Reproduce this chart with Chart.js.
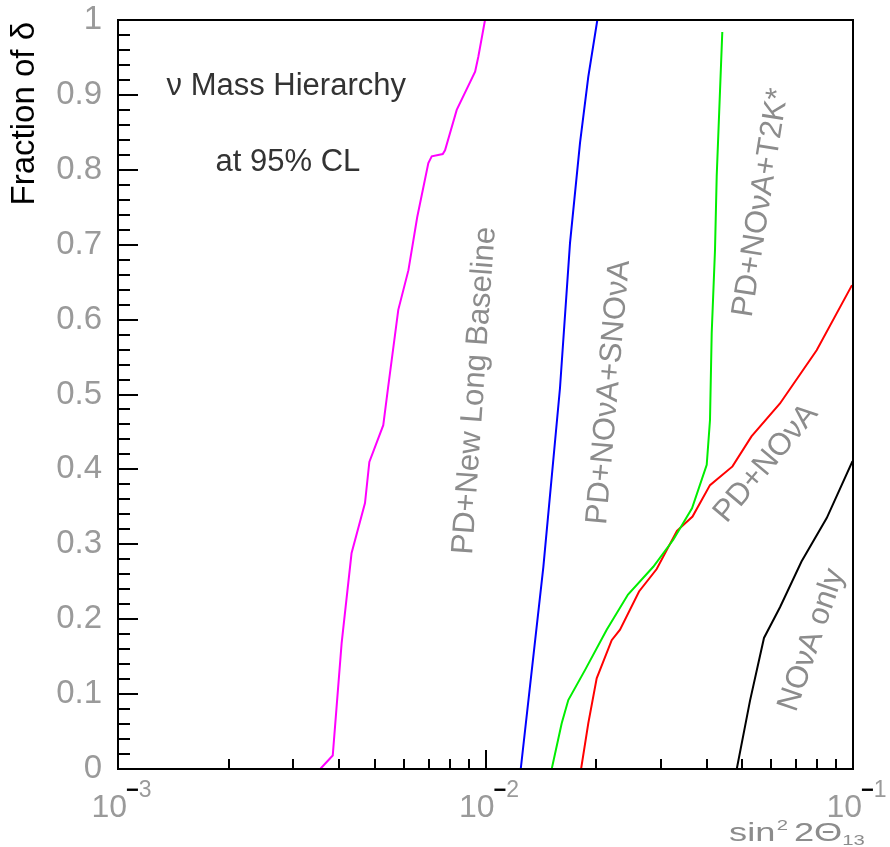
<!DOCTYPE html>
<html>
<head>
<meta charset="utf-8">
<script src="https://cdn.jsdelivr.net/npm/chart.js@4.4.0/dist/chart.umd.min.js"></script>
<style>
  html, body { margin: 0; padding: 0; background: #fff; }
  canvas { display: block; }
</style>
</head>
<body>
<canvas id="chart" width="890" height="847"></canvas>
<script>
// sin^2 2theta13 (x) against fraction of delta (y), one pair of arrays per curve
const longBaselineX = [0.00355, 0.00384, 0.00406, 0.00432, 0.00470, 0.00483, 0.00527, 0.00543, 0.00579, 0.00617, 0.00652, 0.00699, 0.00714, 0.00765, 0.00776, 0.00835, 0.00937, 0.00956, 0.00997];
const longBaselineY = [0, 0.018, 0.168, 0.288, 0.355, 0.410, 0.459, 0.509, 0.613, 0.666, 0.737, 0.809, 0.818, 0.821, 0.826, 0.880, 0.931, 0.951, 1.0];

const snovaX = [0.01247, 0.01437, 0.01595, 0.01698, 0.01808, 0.01904, 0.02015];
const snovaY = [0, 0.270, 0.509, 0.702, 0.836, 0.924, 1.0];

const t2kX = [0.01514, 0.01612, 0.01680, 0.01865, 0.02137, 0.02442, 0.02861, 0.03243, 0.03647, 0.03999, 0.04082, 0.04126, 0.04212, 0.04257, 0.04409];
const t2kY = [0, 0.061, 0.092, 0.132, 0.186, 0.233, 0.270, 0.306, 0.348, 0.406, 0.466, 0.582, 0.693, 0.791, 0.984];

const pdNovaX = [0.01820, 0.01904, 0.02007, 0.02205, 0.02323, 0.02617, 0.02923, 0.03319, 0.03659, 0.04082, 0.04700, 0.05294, 0.06329, 0.07964, 0.09938];
const pdNovaY = [0, 0.061, 0.121, 0.172, 0.186, 0.237, 0.267, 0.318, 0.337, 0.379, 0.404, 0.444, 0.488, 0.559, 0.646];

const novaOnlyX = [0.04827, 0.05244, 0.05725, 0.06329, 0.07242, 0.08481, 0.09968];
const novaOnlyY = [0, 0.091, 0.175, 0.216, 0.277, 0.335, 0.411];

const xDecades = [-3, -2, -1];
const yTickStep = 0.1;

const FONT = "'Liberation Sans', Arial, Helvetica, sans-serif";

// text placed in data coordinates
const notes = [
  { text: 'ν Mass Hierarchy', x: 0.00287, y: 0.911, rot: 0, size: 31, color: '#333' },
  { text: 'at 95% CL', x: 0.00290, y: 0.810, rot: 0, size: 31, color: '#333' },
  { text: 'PD+New Long Baseline', x: 0.00936, y: 0.505, rot: -86, size: 31, color: '#8c8c8c' },
  { text: 'PD+NOνA+SNOνA', x: 0.02168, y: 0.503, rot: -85, size: 31, color: '#8c8c8c' },
  { text: 'PD+NOνA+T2K*', x: 0.0562, y: 0.756, rot: -81, size: 31, color: '#8c8c8c' },
  { text: 'PD+NOνA', x: 0.0580, y: 0.408, rot: -50, size: 31, color: '#8c8c8c' },
  { text: 'NOνA only', x: 0.0773, y: 0.172, rot: -71, size: 31, color: '#8c8c8c' }
];

function pts(xs, ys) {
  return xs.map((v, i) => ({ x: v, y: ys[i] }));
}

function curve(label, xs, ys, color) {
  return {
    label: label,
    data: pts(xs, ys),
    borderColor: color,
    backgroundColor: color,
    borderWidth: 2,
    pointRadius: 0,
    showLine: true,
    tension: 0
  };
}

const rootFrame = {
  id: 'rootFrame',
  afterDatasetsDraw(chart) {
    const { ctx, chartArea: a } = chart;
    const x = chart.scales.x, y = chart.scales.y;
    ctx.save();

    ctx.strokeStyle = '#000';
    ctx.lineWidth = 2;
    ctx.strokeRect(a.left, a.top, a.right - a.left, a.bottom - a.top);

    // ticks drawn inside the frame
    ctx.beginPath();
    for (let v = 0; v <= 50; v++) {
      const py = Math.round(y.getPixelForValue(v / 50));
      const len = v % 5 === 0 ? 20 : 12;
      ctx.moveTo(a.left, py);
      ctx.lineTo(a.left + len, py);
    }
    for (let e = xDecades[0]; e < xDecades[xDecades.length - 1]; e++) {
      for (let m = 1; m <= 9; m++) {
        const px = Math.round(x.getPixelForValue(m * Math.pow(10, e)));
        const len = m === 1 ? 19 : 10;
        ctx.moveTo(px, a.bottom);
        ctx.lineTo(px, a.bottom - len);
      }
    }
    ctx.stroke();

    // x tick labels 10^n
    ctx.textBaseline = 'alphabetic';
    xDecades.forEach(e => {
      const px = x.getPixelForValue(Math.pow(10, e));
      ctx.font = '32px ' + FONT;
      ctx.fillStyle = '#9a9a9a';
      ctx.textAlign = 'right';
      ctx.fillText('10', px + 9, a.bottom + 48);
      ctx.textAlign = 'left';
      ctx.font = 'bold 22px ' + FONT;
      ctx.fillStyle = '#000';
      ctx.fillText('−', px + 8, a.bottom + 28);
      const mw = ctx.measureText('−').width;
      ctx.font = '23px ' + FONT;
      ctx.fillStyle = '#9a9a9a';
      ctx.fillText(String(-e), px + 8 + mw, a.bottom + 28);
    });

    // x axis title, stretched like the wide ROOT font
    ctx.save();
    ctx.translate(729, 841);
    ctx.scale(1.45, 1);
    let tx = 0;
    ctx.textAlign = 'left';
    ctx.fillStyle = '#8c8c8c';
    ctx.font = '25px ' + FONT;
    ctx.fillText('sin', tx, 0);
    tx += ctx.measureText('sin').width + 1;
    ctx.font = '14px ' + FONT;
    ctx.fillText('2', tx, -11);
    tx += ctx.measureText('2').width + 4;
    ctx.font = '25px ' + FONT;
    ctx.fillText('2Θ', tx, 0);
    tx += ctx.measureText('2Θ').width;
    ctx.font = '14px ' + FONT;
    ctx.fillText('13', tx, 4);
    ctx.restore();

    // y axis title, top aligned like ROOT
    ctx.save();
    ctx.translate(25, a.top + 2);
    ctx.rotate(-Math.PI / 2);
    ctx.textAlign = 'right';
    ctx.textBaseline = 'middle';
    ctx.font = '33px ' + FONT;
    ctx.fillStyle = '#000';
    ctx.fillText('Fraction of δ', 0, 0);
    ctx.restore();

    // curve captions
    notes.forEach(n => {
      ctx.save();
      ctx.translate(x.getPixelForValue(n.x), y.getPixelForValue(n.y));
      ctx.rotate(n.rot * Math.PI / 180);
      ctx.textAlign = 'center';
      ctx.textBaseline = 'middle';
      ctx.font = n.size + 'px ' + FONT;
      ctx.fillStyle = n.color;
      ctx.fillText(n.text, 0, 0);
      ctx.restore();
    });

    ctx.restore();
  }
};

new Chart(document.getElementById('chart'), {
  type: 'scatter',
  data: {
    datasets: [
      curve('PD+New Long Baseline', longBaselineX, longBaselineY, '#ff00ff'),
      curve('PD+NOvA+SNOvA', snovaX, snovaY, '#0000ff'),
      curve('PD+NOvA+T2K*', t2kX, t2kY, '#00ee00'),
      curve('PD+NOvA', pdNovaX, pdNovaY, '#ff0000'),
      curve('NOvA only', novaOnlyX, novaOnlyY, '#000000')
    ]
  },
  options: {
    responsive: false,
    animation: false,
    devicePixelRatio: 1,
    layout: { padding: { top: 20, right: 37, left: 0, bottom: 0 } },
    plugins: {
      legend: { display: false },
      tooltip: { enabled: false }
    },
    scales: {
      x: {
        type: 'logarithmic',
        min: Math.pow(10, xDecades[0]),
        max: Math.pow(10, xDecades[xDecades.length - 1]),
        grid: { display: false },
        border: { display: false },
        ticks: { display: false },
        afterFit(s) { s.height = 78; }
      },
      y: {
        min: 0,
        max: 1,
        grid: { display: false },
        border: { display: false },
        ticks: {
          stepSize: yTickStep,
          color: '#9a9a9a',
          padding: 8,
          font: { family: FONT, size: 33, lineHeight: 0.7 },
          callback: v => String(Math.round(v * 10) / 10)
        },
        afterFit(s) { s.width = 118; }
      }
    }
  },
  plugins: [rootFrame]
});
</script>
</body>
</html>
